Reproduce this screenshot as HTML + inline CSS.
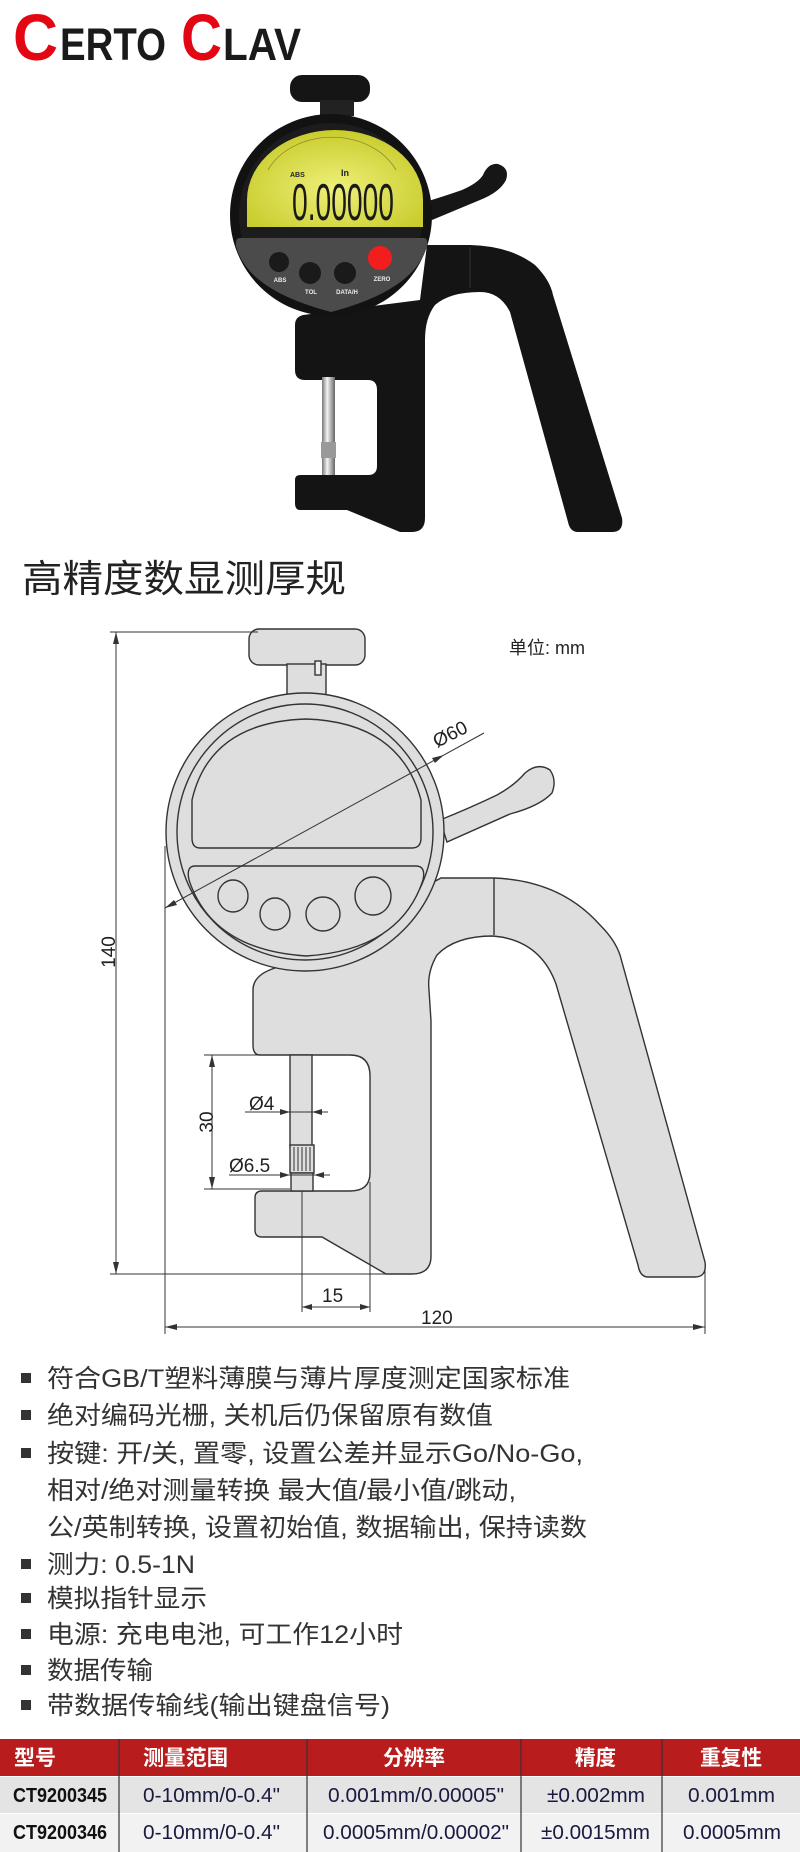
<!DOCTYPE html>
<html><head><meta charset="utf-8"><style>
html,body{margin:0;padding:0;background:#fff;}
svg{display:block;}
</style></head><body>
<svg width="800" height="1852" viewBox="0 0 800 1852" xmlns="http://www.w3.org/2000/svg" font-family="Liberation Sans, Noto Sans CJK SC, sans-serif">
<!-- Logo -->
<g font-weight="bold">
<text x="13" y="60" font-size="66" fill="#e30613" textLength="45" lengthAdjust="spacingAndGlyphs">C</text>
<text x="60" y="60" font-size="45" fill="#1a1a1a" textLength="106" lengthAdjust="spacingAndGlyphs">ERTO</text>
<text x="181" y="60" font-size="66" fill="#e30613" textLength="41" lengthAdjust="spacingAndGlyphs">C</text>
<text x="223" y="60" font-size="45" fill="#1a1a1a" textLength="78" lengthAdjust="spacingAndGlyphs">LAV</text>
</g>

<!-- Photo device -->
<defs>
<radialGradient id="lcd" cx="0.5" cy="0.6" r="0.6"><stop offset="0" stop-color="#eef07a"/><stop offset="1" stop-color="#c9cc2c"/></radialGradient>
<linearGradient id="steel" x1="0" x2="1"><stop offset="0" stop-color="#777"/><stop offset="0.4" stop-color="#f4f4f4"/><stop offset="1" stop-color="#666"/></linearGradient>
</defs>
<path d="M427,245 L470,245 Q510,246 535,265 Q550,280 553,295 L622,518 Q624,532 612,532 L578,532 Q570,532 568,522 L510,312 Q500,292 480,292 Q450,292 435,305 Q425,318 425,340 L425,518 Q425,532 412,532 L400,532 L347,510 L300,510 Q295,510 295,503 L295,480 Q295,475 300,475 L368,475 Q377,475 377,466 L377,390 Q377,380 368,380 L305,380 Q295,380 295,370 L295,325 Q295,317 303,315 L420,300 Z" fill="#141414"/>
<line x1="470" y1="247" x2="470" y2="288" stroke="#333" stroke-width="1"/>
<rect x="322" y="377" width="13" height="98" fill="url(#steel)"/>
<rect x="321" y="442" width="15" height="16" fill="#999"/>
<!-- lever -->
<path d="M425,202 Q445,196 462,190 Q478,183 483,175 Q488,163 498,164 Q510,168 506,180 Q500,192 480,200 L432,220 Z" fill="#161616"/>
<!-- knob -->
<rect x="290" y="75" width="80" height="27" rx="12" fill="#151515"/>
<rect x="320" y="100" width="34" height="16" fill="#222"/>
<!-- dial -->
<circle cx="331" cy="215" r="101" fill="#121212"/>
<circle cx="331" cy="215" r="92" fill="#1c1c1c"/>
<path d="M247,227 L247,200 A88,70 0 0 1 423,200 L423,227 Z" fill="url(#lcd)"/>
<path d="M268,170 A70,55 0 0 1 396,170" fill="none" stroke="#8a8a30" stroke-width="0.8"/>
<path d="M240,238 L424,238 Q428,238 427,246 Q415,290 331,312 Q247,290 236,246 Q235,238 240,238 Z" fill="#4b4b4b"/>
<text x="290" y="177" font-size="7" font-weight="bold" fill="#222">ABS</text>
<text x="341" y="176" font-size="9" font-weight="bold" fill="#222">In</text>
<text x="292" y="220" font-size="52" fill="#1a1a1a" textLength="102" lengthAdjust="spacingAndGlyphs">0.00000</text>
<circle cx="279" cy="262" r="10" fill="#1a1a1a"/>
<circle cx="310" cy="273" r="11" fill="#1a1a1a"/>
<circle cx="345" cy="273" r="11" fill="#1a1a1a"/>
<circle cx="380" cy="258" r="12" fill="#f21d1d"/>
<g font-size="6" fill="#eee" text-anchor="middle" font-weight="bold">
<text x="280" y="282">ABS</text><text x="311" y="294">TOL</text><text x="347" y="294">DATA/H</text><text x="382" y="281">ZERO</text>
</g>

<!-- Title -->
<text x="22" y="592" font-size="38" fill="#222" textLength="324" lengthAdjust="spacingAndGlyphs">高精度数显测厚规</text>

<!-- Drawing -->
<g fill="#dedede" stroke="#333" stroke-width="1.4">
<!-- body -->
<path d="M441,878 L493,878 Q560,880 600,925 Q615,940 620,955 L705,1262 Q707,1277 695,1277 L648,1277 Q640,1277 638,1265 L556,984 Q540,940 493,936 Q455,936 437,955 Q427,972 429,990 L431,1021 L431,1256 Q431,1274 412,1274 L386,1274 L322,1237 L262,1237 Q255,1237 255,1230 L255,1198 Q255,1191 262,1191 L350,1191 Q370,1191 370,1173 L370,1076 Q370,1055 350,1055 L260,1055 Q253,1055 253,1045 L253,990 Q253,975 275,968 Z"/>
<line x1="494" y1="878" x2="494" y2="935"/>
<!-- spindle -->
<rect x="290" y="1055" width="22" height="92"/>
<rect x="290" y="1145" width="24" height="28"/>
<rect x="291" y="1173" width="22" height="18"/>
<!-- lever -->
<path d="M440,820 Q470,808 497,795 Q515,785 525,773 Q538,762 550,770 Q557,780 552,793 Q540,806 510,814 L447,842 Z"/>
<!-- knob -->
<rect x="249" y="629" width="116" height="36" rx="10"/>
<rect x="287" y="664" width="39" height="32"/>
<rect x="315" y="661" width="6" height="14" fill="#eee"/>
<!-- dial -->
<circle cx="305" cy="832" r="139"/>
<circle cx="305" cy="832" r="128" fill="none"/>
<path d="M200,848 Q192,848 192,838 L192,800 Q210,722 306,719 Q400,722 421,800 L421,838 Q421,848 412,848 Z"/>
<path d="M195,866 L416,866 Q426,866 423,880 Q400,950 306,956 Q212,950 189,880 Q186,866 195,866 Z"/>
<ellipse cx="233" cy="896" rx="15" ry="16"/>
<ellipse cx="275" cy="914" rx="15" ry="16"/>
<ellipse cx="323" cy="914" rx="17" ry="17"/>
<ellipse cx="373" cy="896" rx="18" ry="19"/>
</g>
<g stroke="#333" stroke-width="1" fill="none">
<!-- knurl -->
<path d="M294,1147v24M298,1147v24M302,1147v24M306,1147v24M310,1147v24"/>
<!-- 140 -->
<line x1="116" y1="632" x2="116" y2="1274"/>
<line x1="110" y1="632" x2="258" y2="632"/>
<line x1="110" y1="1274" x2="386" y2="1274"/>
<!-- 120 -->
<line x1="165" y1="846" x2="165" y2="1334"/>
<line x1="705" y1="1270" x2="705" y2="1334"/>
<line x1="165" y1="1327" x2="705" y2="1327"/>
<!-- 15 -->
<line x1="302" y1="1191" x2="302" y2="1312"/>
<line x1="370" y1="1182" x2="370" y2="1312"/>
<line x1="302" y1="1307" x2="370" y2="1307"/>
<!-- 30 -->
<line x1="204" y1="1055" x2="290" y2="1055"/>
<line x1="204" y1="1189" x2="290" y2="1189"/>
<line x1="212" y1="1055" x2="212" y2="1189"/>
<!-- Ø4 -->
<line x1="245" y1="1112" x2="328" y2="1112"/>
<line x1="229" y1="1175" x2="330" y2="1175"/>
<!-- Ø60 -->
<line x1="165" y1="908" x2="484" y2="733"/>
</g>
<g fill="#333">
<path d="M116,632 l-3,12 h6z"/><path d="M116,1274 l-3,-12 h6z"/>
<path d="M165,1327 l12,-3 v6z"/><path d="M705,1327 l-12,-3 v6z"/>
<path d="M302,1307 l10,-3 v6z"/><path d="M370,1307 l-10,-3 v6z"/>
<path d="M212,1055 l-3,12 h6z"/><path d="M212,1189 l-3,-12 h6z"/>
<path d="M290,1112 l-10,-3 v6z"/><path d="M312,1112 l10,-3 v6z"/>
<path d="M290,1175 l-10,-3 v6z"/><path d="M314,1175 l10,-3 v6z"/>
<path d="M165,908 l9,-8 l3,5z"/><path d="M444,755 l-9,8 l-3,-5z"/>
</g>
<g font-size="19" fill="#222">
<text x="108" y="952" transform="rotate(-90 108 952)" text-anchor="middle" dy="7">140</text>
<text x="206" y="1122" transform="rotate(-90 206 1122)" text-anchor="middle" dy="7">30</text>
<text x="249" y="1110">Ø4</text>
<text x="229" y="1172">Ø6.5</text>
<text x="322" y="1302">15</text>
<text x="421" y="1324">120</text>
<text x="437" y="748" transform="rotate(-27 437 748)">Ø60</text>
<text x="509" y="654" font-size="18">单位: mm</text>
</g>

<!-- Bullets -->
<g fill="#333" font-size="25">
<rect x="21" y="1373" width="10" height="10"/><text x="47" y="1387" textLength="523" lengthAdjust="spacingAndGlyphs">符合GB/T塑料薄膜与薄片厚度测定国家标准</text>
<rect x="21" y="1410" width="10" height="10"/><text x="47" y="1424" textLength="446" lengthAdjust="spacingAndGlyphs">绝对编码光栅, 关机后仍保留原有数值</text>
<rect x="21" y="1448" width="10" height="10"/><text x="47" y="1462" textLength="536" lengthAdjust="spacingAndGlyphs">按键: 开/关, 置零, 设置公差并显示Go/No-Go,</text>
<text x="47" y="1499" textLength="469" lengthAdjust="spacingAndGlyphs">相对/绝对测量转换 最大值/最小值/跳动,</text>
<text x="47" y="1536" textLength="540" lengthAdjust="spacingAndGlyphs">公/英制转换, 设置初始值, 数据输出, 保持读数</text>
<rect x="21" y="1559" width="10" height="10"/><text x="47" y="1573" textLength="148" lengthAdjust="spacingAndGlyphs">测力: 0.5-1N</text>
<rect x="21" y="1593" width="10" height="10"/><text x="47" y="1607" textLength="160" lengthAdjust="spacingAndGlyphs">模拟指针显示</text>
<rect x="21" y="1629" width="10" height="10"/><text x="47" y="1643" textLength="356" lengthAdjust="spacingAndGlyphs">电源: 充电电池, 可工作12小时</text>
<rect x="21" y="1665" width="10" height="10"/><text x="47" y="1679" textLength="106" lengthAdjust="spacingAndGlyphs">数据传输</text>
<rect x="21" y="1700" width="10" height="10"/><text x="47" y="1714" textLength="343" lengthAdjust="spacingAndGlyphs">带数据传输线(输出键盘信号)</text>
</g>

<!-- Table -->
<rect x="0" y="1739" width="800" height="37" fill="#b81c1c"/>
<rect x="0" y="1777" width="800" height="36" fill="#e4e4e4"/>
<rect x="0" y="1814" width="800" height="38" fill="#f2f2f2"/>
<g stroke="#333" stroke-width="1.2">
<line x1="119" y1="1739" x2="119" y2="1852"/><line x1="307" y1="1739" x2="307" y2="1852"/>
<line x1="521" y1="1739" x2="521" y2="1852"/><line x1="662" y1="1739" x2="662" y2="1852"/>
</g>
<g fill="#fff" font-size="21" font-weight="bold">
<text x="14" y="1765" textLength="42" lengthAdjust="spacingAndGlyphs">型号</text>
<text x="143" y="1765" textLength="85" lengthAdjust="spacingAndGlyphs">测量范围</text>
<text x="383" y="1765" textLength="62" lengthAdjust="spacingAndGlyphs">分辨率</text>
<text x="575" y="1765" textLength="41" lengthAdjust="spacingAndGlyphs">精度</text>
<text x="700" y="1765" textLength="62" lengthAdjust="spacingAndGlyphs">重复性</text>
</g>
<g font-size="20" fill="#1a1a40">
<text x="13" y="1802" fill="#111" font-weight="bold" textLength="94" lengthAdjust="spacingAndGlyphs">CT9200345</text>
<text x="143" y="1802" textLength="137" lengthAdjust="spacingAndGlyphs">0-10mm/0-0.4"</text>
<text x="328" y="1802" textLength="176" lengthAdjust="spacingAndGlyphs">0.001mm/0.00005"</text>
<text x="547" y="1802" textLength="98" lengthAdjust="spacingAndGlyphs">±0.002mm</text>
<text x="688" y="1802" textLength="87" lengthAdjust="spacingAndGlyphs">0.001mm</text>
<text x="13" y="1839" fill="#111" font-weight="bold" textLength="94" lengthAdjust="spacingAndGlyphs">CT9200346</text>
<text x="143" y="1839" textLength="137" lengthAdjust="spacingAndGlyphs">0-10mm/0-0.4"</text>
<text x="323" y="1839" textLength="186" lengthAdjust="spacingAndGlyphs">0.0005mm/0.00002"</text>
<text x="541" y="1839" textLength="109" lengthAdjust="spacingAndGlyphs">±0.0015mm</text>
<text x="683" y="1839" textLength="98" lengthAdjust="spacingAndGlyphs">0.0005mm</text>
</g>
</svg>
</body></html>
